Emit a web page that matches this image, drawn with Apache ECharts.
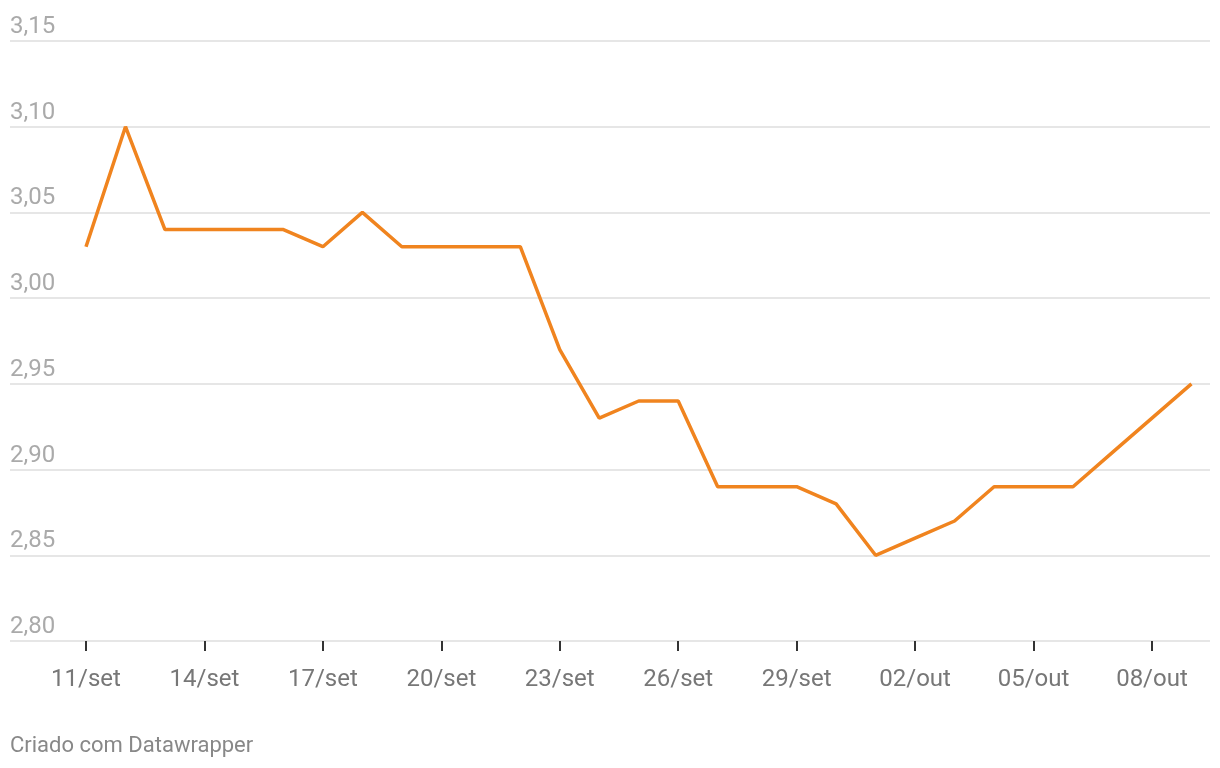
<!DOCTYPE html>
<html>
<head>
<meta charset="utf-8">
<script src="https://cdn.jsdelivr.net/npm/echarts@6/dist/echarts.min.js"></script>
<style>
html,body{margin:0;padding:0;background:#fff;}
#chart{width:1220px;height:768px;}
</style>
</head>
<body>
<div id="chart"></div>
<script>
// Dates (11/set .. 09/out)
const dates = ['11/set','12/set','13/set','14/set','15/set','16/set','17/set','18/set','19/set','20/set',
  '21/set','22/set','23/set','24/set','25/set','26/set','27/set','28/set','29/set','30/set',
  '01/out','02/out','03/out','04/out','05/out','06/out','07/out','08/out','09/out'];
const values = [3.03,3.10,3.04,3.04,3.04,3.04,3.03,3.05,3.03,3.03,
  3.03,3.03,2.97,2.93,2.94,2.94,2.89,2.89,2.89,2.88,
  2.85,2.86,2.87,2.89,2.89,2.89,2.91,2.93,2.95];
const tickIndices = [0,3,6,9,12,15,18,21,24,27];
const yTicks = [2.80,2.85,2.90,2.95,3.00,3.05,3.10,3.15];
const footer = 'Criado com Datawrapper';

const chart = echarts.init(document.getElementById('chart'));
chart.setOption({
  animation:false,
  backgroundColor:'#fff',
  textStyle:{fontFamily:'Roboto'},
  title:{text:footer,left:10,top:735,padding:0,
    textStyle:{fontFamily:'Roboto',fontSize:22,fontWeight:'normal',color:'#888'}},
  grid:{left:10,right:10,top:41,bottom:127,containLabel:false},
  xAxis:{
    type:'value',min:-1.925,max:28.47,
    axisLine:{show:false},
    splitLine:{show:false},
    axisTick:{show:true,customValues:tickIndices,length:10,lineStyle:{color:'#333',width:2}},
    axisLabel:{customValues:tickIndices,formatter:v=>dates[Math.round(v)],
      margin:27,fontSize:24,color:'#777',fontFamily:'Roboto'}
  },
  yAxis:{
    type:'value',min:yTicks[0],max:yTicks[yTicks.length-1],interval:0.05,
    axisLine:{show:false},axisTick:{show:false},
    splitLine:{show:true,lineStyle:{color:'#e6e6e6',width:2}},
    axisLabel:{inside:true,margin:0,verticalAlign:'bottom',padding:[0,0,2,0],
      fontSize:24,color:'#aaa',fontFamily:'Roboto',
      formatter:v=>v.toFixed(2).replace('.',',')}
  },
  series:[{
    type:'line',
    data:values.map((v,i)=>[i,v]),
    showSymbol:false,
    lineStyle:{color:'#f0841f',width:3.5},
    itemStyle:{color:'#f0841f'}
  }]
});
</script>
</body>
</html>
